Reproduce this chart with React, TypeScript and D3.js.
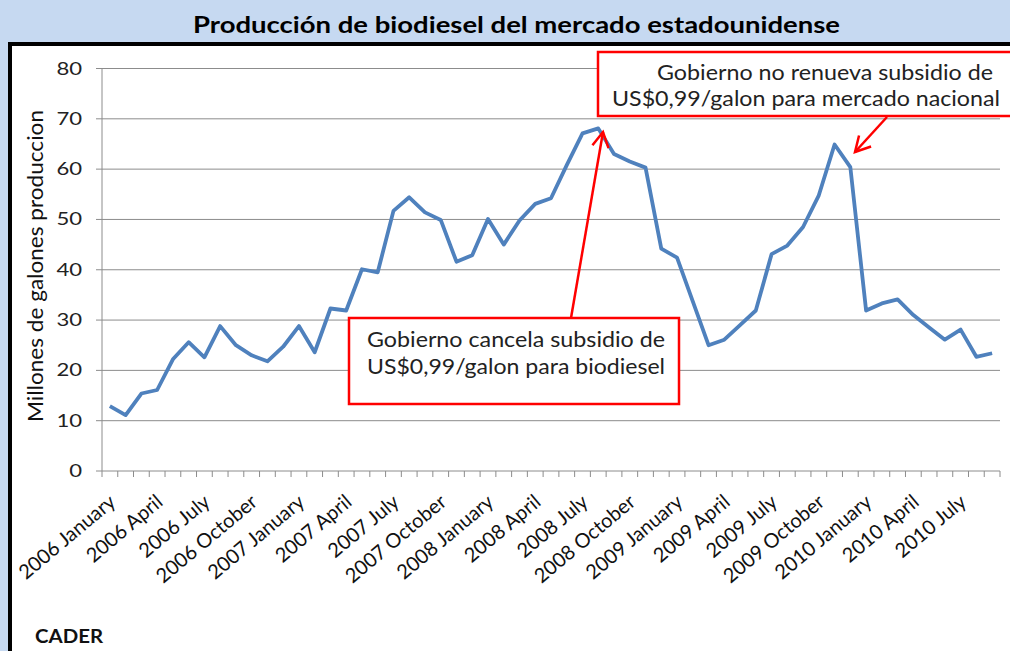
import React from "react";
import * as d3 from "d3";

// monthly production, Jan 2006 .. Sep 2010 (millions of gallons)
const years = [2006, 2007, 2008, 2009, 2010];
const monthNames = ["January", "February", "March", "April", "May", "June", "July", "August", "September", "October", "November", "December"];
const categories = years.flatMap((y) => monthNames.map((m) => `${y} ${m}`)).slice(0, 57);

const production = [
  12.9, 11.1, 15.4, 16.1, 22.2, 25.6, 22.6, 28.8, 25.0, 23.0, 21.8, 24.7,
  28.8, 23.6, 32.3, 31.9, 40.1, 39.5, 51.7, 54.4, 51.4, 49.9, 41.6, 42.9,
  50.1, 45.0, 49.8, 53.1, 54.2, 60.8, 67.1, 68.1, 63.0, 61.5, 60.3, 44.2,
  42.4, 33.7, 25.0, 26.1, 29.0, 31.9, 43.1, 44.8, 48.5, 54.8, 64.9, 60.4,
  31.9, 33.3, 34.1, 31.0, 28.5, 26.1, 28.1, 22.7, 23.4,
];

const yTicks = [0, 10, 20, 30, 40, 50, 60, 70, 80];
const xTickLabels = categories.filter((_, i) => i % 3 === 0);

const W = 1010;
const H = 651;
const FONT = "Lato, 'Open Sans', sans-serif";
const BLUE_BG = "#C6D9F1";
const LINE = "#4F81BD";
const RED = "#FF0000";
const GRID = "#8C8C8C";

const x = d3.scaleBand<string>().domain(categories).range([102, 1000]);
const y = d3.scaleLinear().domain([0, 80]).range([471, 68.5]);

const line = d3
  .line<number>()
  .x((_, i) => (x(categories[i]) as number) + x.bandwidth() / 2)
  .y((d) => y(d));

// open "V" arrow head at (tx,ty) pointing away from (fx,fy)
const arrowHead = (fx: number, fy: number, tx: number, ty: number, len = 17, ang = 0.5) => {
  const a = Math.atan2(fy - ty, fx - tx);
  const p1 = [tx + len * Math.cos(a + ang), ty + len * Math.sin(a + ang)];
  const p2 = [tx + len * Math.cos(a - ang), ty + len * Math.sin(a - ang)];
  return `M${p1[0]},${p1[1]}L${tx},${ty}L${p2[0]},${p2[1]}`;
};

export default function App() {
  const bw = x.bandwidth();
  return (
    <svg width={W} height={H} style={{ position: "absolute", left: 0, top: 0 }} fontFamily={FONT}>
      <rect x={0} y={0} width={W} height={H} fill={BLUE_BG} />
      <text x={516.5} y={33} textAnchor="middle" fontSize={23} fontWeight="bold" fill="#000"
        textLength={647} lengthAdjust="spacingAndGlyphs">
        Producción de biodiesel del mercado estadounidense
      </text>

      {/* chart frame */}
      <rect x={10} y={44} width={W + 10} height={H} fill="#fff" stroke="#000" strokeWidth={4} />

      {/* grid + y ticks */}
      {yTicks.map((t) => (
        <g key={t}>
          <line x1={96} x2={1000} y1={y(t)} y2={y(t)} stroke={GRID} strokeWidth={1} />
          <text transform={`translate(82,${y(t) + 6}) scale(1.3,1)`} textAnchor="end" fontSize={17} fill="#222">
            {t}
          </text>
        </g>
      ))}
      <line x1={102} x2={102} y1={y(80)} y2={y(0)} stroke={GRID} strokeWidth={1} />

      {/* x axis ticks */}
      {categories.concat([""]).map((c, i) => {
        const xx = 102 + i * bw;
        return <line key={i} x1={xx} x2={xx} y1={y(0)} y2={y(0) + 6} stroke={GRID} strokeWidth={1} />;
      })}
      {xTickLabels.map((c) => {
        const cx = (x(c) as number) + bw / 2 + 7;
        return (
          <text key={c} transform={`translate(${cx},504) rotate(-40)`} textAnchor="end"
            fontSize={20} fill="#111">
            {c}
          </text>
        );
      })}

      <text transform="translate(43,266) rotate(-90)" textAnchor="middle" fontSize={22} fill="#111"
        textLength={312} lengthAdjust="spacingAndGlyphs">
        Millones de galones produccion
      </text>

      <path d={line(production) as string} fill="none" stroke={LINE} strokeWidth={3.8} strokeLinejoin="round" />

      {/* annotation 1 */}
      <rect x={349} y={318} width={330} height={86} fill="#fff" stroke={RED} strokeWidth={2.5} />
      <text x={516} y={347} textAnchor="middle" fontSize={21} fill="#222" textLength={298} lengthAdjust="spacingAndGlyphs">
        Gobierno cancela subsidio de
      </text>
      <text x={516} y={374} textAnchor="middle" fontSize={21} fill="#222" textLength={298} lengthAdjust="spacingAndGlyphs">
        US$0,99/galon para biodiesel
      </text>
      <line x1={571} y1={318} x2={603} y2={132} stroke={RED} strokeWidth={2.5} />
      <path d={arrowHead(571, 318, 603, 132)} fill="none" stroke={RED} strokeWidth={2.5} />

      {/* annotation 2 */}
      <rect x={598} y={52} width={440} height={64} fill="#fff" stroke={RED} strokeWidth={2.5} />
      <text x={657} y={80} fontSize={21} fill="#222" textLength={336} lengthAdjust="spacingAndGlyphs">
        Gobierno no renueva subsidio de
      </text>
      <text x={612} y={106} fontSize={21} fill="#222" textLength={388} lengthAdjust="spacingAndGlyphs">
        US$0,99/galon para mercado nacional
      </text>
      <line x1={887} y1={117} x2={855} y2={152} stroke={RED} strokeWidth={2.5} />
      <path d={arrowHead(887, 117, 855, 152)} fill="none" stroke={RED} strokeWidth={2.5} />

      <text x={35} y={643} fontSize={18} fontWeight="bold" fill="#111" textLength={68} lengthAdjust="spacingAndGlyphs">
        CADER
      </text>
    </svg>
  );
}
